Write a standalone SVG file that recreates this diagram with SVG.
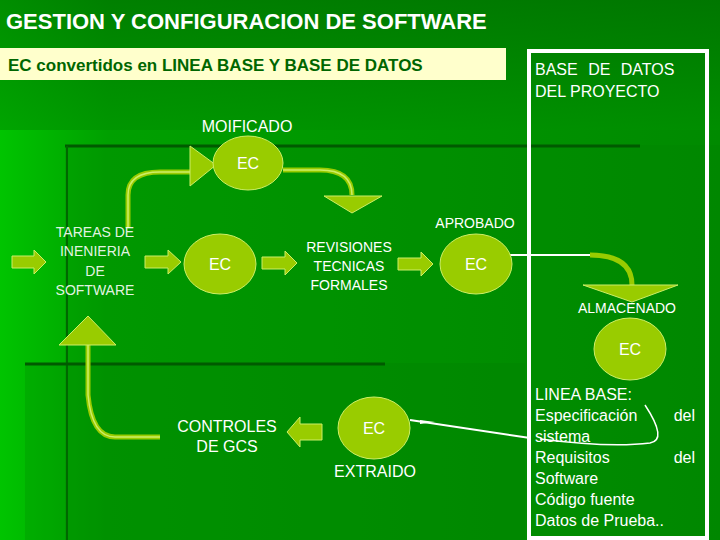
<svg xmlns="http://www.w3.org/2000/svg" width="720" height="540" viewBox="0 0 720 540">
<defs>
<linearGradient id="bg" x1="0" y1="0" x2="1" y2="0"><stop offset="0" stop-color="#00c400"/><stop offset="0.15" stop-color="#00a000"/><stop offset="1" stop-color="#008a00"/></linearGradient>
<linearGradient id="top" x1="0" y1="0" x2="0" y2="1"><stop offset="0" stop-color="#006a00"/><stop offset="1" stop-color="#009000"/></linearGradient>
<style>
.t{font-family:"Liberation Sans",Arial,sans-serif;fill:#fff}
.e{fill:#99cc00;stroke:#ccee66;stroke-width:1}
.ya{fill:#99cc00;stroke:#ccee66;stroke-width:1}
.c{fill:none;stroke:#99cc00;stroke-width:5}
.ci{fill:none;stroke:#ccee66;stroke-width:1.5}
</style>
</defs>
<rect width="720" height="540" fill="url(#bg)"/>
<rect width="720" height="130" fill="url(#top)" opacity="0.6"/>
<rect x="65" y="145" width="655" height="395" fill="#008000" opacity="0.25"/>
<rect x="25" y="363" width="500" height="177" fill="#007a00" opacity="0.2"/>
<line x1="65" y1="146" x2="640" y2="146" stroke="#005a00" stroke-width="3"/>
<line x1="67" y1="146" x2="67" y2="540" stroke="#006800" stroke-width="2"/>
<line x1="25" y1="364" x2="385" y2="364" stroke="#005a00" stroke-width="3"/>
<text class="t" x="6" y="29" font-size="22" font-weight="bold">GESTION Y CONFIGURACION DE SOFTWARE</text>
<rect x="0" y="48" width="506" height="32" fill="#ffffcc"/>
<text x="8" y="71" font-family="Liberation Sans,Arial,sans-serif" font-size="17" font-weight="bold" fill="#006600">EC convertidos en LINEA BASE Y BASE DE DATOS</text>
<rect x="529" y="51" width="178" height="487" fill="none" stroke="#fff" stroke-width="4"/>
<text class="t" x="535" y="75" font-size="16" word-spacing="6">BASE DE DATOS</text>
<text class="t" x="535" y="97" font-size="16">DEL PROYECTO</text>
<text class="t" x="247" y="132" font-size="16" text-anchor="middle">MOIFICADO</text>
<g id="connectors">
<path class="c" d="M128,228 V195 Q128,172 160,172 H190"/><path class="ci" d="M128,228 V195 Q128,172 160,172 H190"/>
<polygon class="ya" points="190,146 216,165 190,186"/>
<path class="c" d="M283,170 H320 Q352,170 352,195"/><path class="ci" d="M283,170 H320 Q352,170 352,195"/>
<polygon class="ya" points="324,196 382,196 352,213"/>
<path d="M510,255 H590 Q632,255 632,285" fill="none" stroke="#fff" stroke-width="2"/>
<path class="c" d="M590,255 Q632,255 632,285" stroke-width="4"/>
<path d="M583,285 H678 L632,302 Z" class="ya"/>
<path class="c" d="M88,345 V395 Q92,437 115,437 H160"/><path class="ci" d="M88,345 V395 Q92,437 115,437 H160"/>
<polygon class="ya" points="59,345 116,345 88,316"/>
<path d="M410,420 L530,438" stroke="#fff" stroke-width="2"/>
<polygon points="420,420 435,422 420,424" fill="#fff"/>
<path d="M645,405 Q668,440 650,443 Q610,448 540,439" fill="none" stroke="#fff" stroke-width="1.5"/>
<polygon class="ya" points="12,256 34,256 34,250 46,262 34,274 34,268 12,268"/>
<polygon class="ya" points="145,256 168,256 168,250 181,262 168,274 168,268 145,268"/>
<polygon class="ya" points="262,257 285,257 285,251 297,263 285,275 285,269 262,269"/>
<polygon class="ya" points="398,258 421,258 421,252 433,264 421,276 421,270 398,270"/>
<polygon class="ya" points="322,424 300,424 300,417 287,432 300,447 300,440 322,440"/>
</g>
<g id="ec1"><ellipse class="e" cx="248" cy="163" rx="35" ry="27"/><text class="t" x="248" y="169" font-size="16" text-anchor="middle">EC</text></g>
<g id="tareas"><text class="t" font-size="14" text-anchor="middle" fill-opacity="0.9"><tspan x="95" y="237">TAREAS DE</tspan><tspan x="95" y="256">INENIERIA</tspan><tspan x="95" y="276">DE</tspan><tspan x="95" y="295">SOFTWARE</tspan></text></g>
<g id="ec2"><ellipse class="e" cx="220" cy="264" rx="36" ry="30"/><text class="t" x="220" y="270" font-size="16" text-anchor="middle">EC</text></g>
<g id="rev"><text class="t" font-size="14" text-anchor="middle"><tspan x="349" y="252">REVISIONES</tspan><tspan x="349" y="271">TECNICAS</tspan><tspan x="349" y="290">FORMALES</tspan></text></g>
<text class="t" x="475" y="228" font-size="14" text-anchor="middle">APROBADO</text>
<g id="ec3"><ellipse class="e" cx="476" cy="264" rx="36" ry="30"/><text class="t" x="476" y="270" font-size="16" text-anchor="middle">EC</text></g>
<text class="t" x="627" y="313" font-size="14" text-anchor="middle">ALMACENADO</text>
<g id="ec4"><ellipse class="e" cx="630" cy="349" rx="36" ry="31"/><text class="t" x="630" y="355" font-size="16" text-anchor="middle">EC</text></g>
<g id="controles"><text class="t" font-size="16" text-anchor="middle"><tspan x="227" y="432">CONTROLES</tspan><tspan x="227" y="452">DE GCS</tspan></text></g>
<g id="ec5"><ellipse class="e" cx="374" cy="428" rx="36" ry="31"/><text class="t" x="374" y="434" font-size="16" text-anchor="middle">EC</text></g>
<text class="t" x="375" y="477" font-size="16" text-anchor="middle">EXTRAIDO</text>
<g id="lineabase" font-size="16">
<text class="t" x="535" y="400">LINEA BASE:</text>
<text class="t" x="535" y="421">Especificación</text><text class="t" x="695" y="421" text-anchor="end">del</text>
<text class="t" x="535" y="442">sistema</text>
<text class="t" x="535" y="463">Requisitos</text><text class="t" x="695" y="463" text-anchor="end">del</text>
<text class="t" x="535" y="484">Software</text>
<text class="t" x="535" y="505">Código fuente</text>
<text class="t" x="535" y="526">Datos de Prueba..</text>
</g>
</svg>
